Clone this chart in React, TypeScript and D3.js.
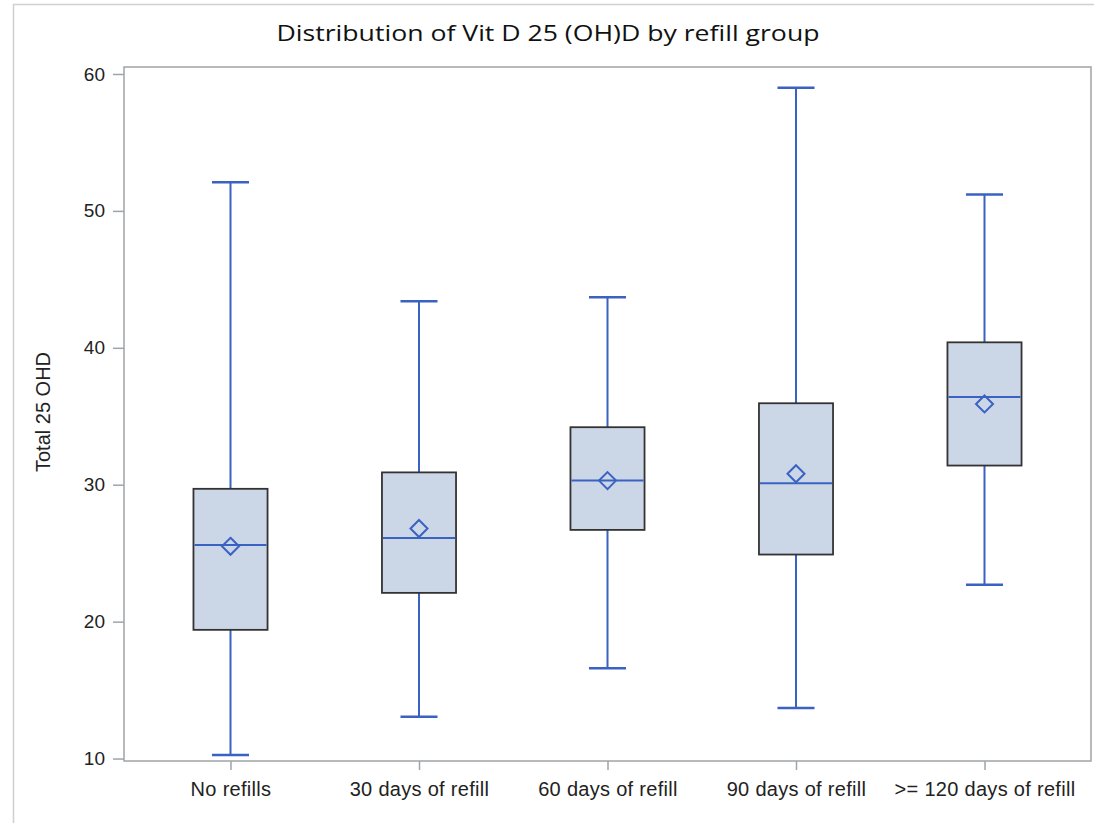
import React, { useEffect, useRef } from 'react'
import * as d3 from 'd3'

// summary stats per refill group
const groups = ['No refills', '30 days of refill', '60 days of refill', '90 days of refill', '>= 120 days of refill']
const whiskerLow = [10.25, 13.05, 16.6, 13.7, 22.7]
const q1 = [19.4, 22.1, 26.7, 24.9, 31.4]
const median = [25.6, 26.1, 30.3, 30.1, 36.4]
const q3 = [29.7, 30.9, 34.2, 35.95, 40.4]
const whiskerHigh = [52.1, 43.4, 43.7, 59.0, 51.2]
const means = [25.5, 26.8, 30.3, 30.8, 35.9]
const yTicks = [10, 20, 30, 40, 50, 60]

const title = 'Distribution of Vit D 25 (OH)D by refill group'
const yLabel = 'Total 25 OHD'

export default function App() {
    const ref = useRef<SVGSVGElement>(null)

    useEffect(() => {
        const svg = d3.select(ref.current)
        svg.selectAll('*').remove()

        const width = 1094
        const height = 823
        const margin = { top: 67, right: 3, bottom: 62, left: 124 }

        const x = d3.scalePoint<string>()
            .domain(groups)
            .range([margin.left, width - margin.right])
            .padding(0.565)

        const y = d3.scaleLinear()
            .domain([9.82, 60.51])
            .range([height - margin.bottom, margin.top])

        const blue = '#3a62c2'
        const boxW = x.step() * 0.393
        const capW = boxW / 2

        // outer light border (only top/left visible in reference)
        svg.append('path')
            .attr('d', `M13.5,${height} V4.5 H${width}`)
            .attr('fill', 'none')
            .attr('stroke', '#d0d0d0')
            .attr('stroke-width', 1.5)

        // title
        svg.append('text')
            .attr('x', 548)
            .attr('y', 41)
            .attr('text-anchor', 'middle')
            .attr('font-family', 'Open Sans, sans-serif')
            .attr('font-size', 22)
            .attr('textLength', 543)
            .attr('lengthAdjust', 'spacingAndGlyphs')
            .attr('fill', '#111')
            .text(title)

        // y axis
        const yAxis = svg.append('g')
            .attr('transform', `translate(${margin.left},0)`)
            .call(d3.axisLeft(y).tickValues(yTicks).tickSize(11).tickPadding(8).tickFormat(d3.format('d')))
        yAxis.select('.domain').remove()
        yAxis.selectAll('line').attr('stroke', '#a0a4a8').attr('stroke-width', 1.5)
        yAxis.selectAll('text')
            .attr('font-family', 'Liberation Sans, Arial, sans-serif')
            .attr('font-size', 19)
            .attr('fill', '#222')

        // x axis
        const xAxis = svg.append('g')
            .attr('transform', `translate(0,${height - margin.bottom})`)
            .call(d3.axisBottom(x).tickSize(9).tickPadding(12))
        xAxis.select('.domain').remove()
        xAxis.selectAll('line').attr('stroke', '#a0a4a8').attr('stroke-width', 1.5)
        xAxis.selectAll('text')
            .attr('font-family', 'Liberation Sans, Arial, sans-serif')
            .attr('font-size', 20)
            .attr('letter-spacing', 0.3)
            .attr('fill', '#222')

        // y title
        svg.append('text')
            .attr('transform', `translate(50,412) rotate(-90)`)
            .attr('text-anchor', 'middle')
            .attr('font-family', 'Liberation Sans, Arial, sans-serif')
            .attr('font-size', 20)
            .attr('fill', '#222')
            .text(yLabel)

        // boxes
        const box = svg.selectAll('g.box')
            .data(groups)
            .join('g')
            .attr('class', 'box')

        box.append('line')
            .attr('x1', d => x(d)!)
            .attr('x2', d => x(d)!)
            .attr('y1', (d, i) => y(whiskerLow[i]))
            .attr('y2', (d, i) => y(whiskerHigh[i]))
            .attr('stroke', blue)
            .attr('stroke-width', 2)

        box.append('line')
            .attr('x1', d => x(d)! - capW / 2)
            .attr('x2', d => x(d)! + capW / 2)
            .attr('y1', (d, i) => y(whiskerHigh[i]))
            .attr('y2', (d, i) => y(whiskerHigh[i]))
            .attr('stroke', blue)
            .attr('stroke-width', 2.5)

        box.append('line')
            .attr('x1', d => x(d)! - capW / 2)
            .attr('x2', d => x(d)! + capW / 2)
            .attr('y1', (d, i) => y(whiskerLow[i]))
            .attr('y2', (d, i) => y(whiskerLow[i]))
            .attr('stroke', blue)
            .attr('stroke-width', 2.5)

        box.append('rect')
            .attr('x', d => x(d)! - boxW / 2)
            .attr('width', boxW)
            .attr('y', (d, i) => y(q3[i]))
            .attr('height', (d, i) => y(q1[i]) - y(q3[i]))
            .attr('fill', '#cbd6e6')
            .attr('stroke', '#333')
            .attr('stroke-width', 1.8)

        box.append('line')
            .attr('x1', d => x(d)! - boxW / 2 + 1)
            .attr('x2', d => x(d)! + boxW / 2 - 1)
            .attr('y1', (d, i) => y(median[i]))
            .attr('y2', (d, i) => y(median[i]))
            .attr('stroke', blue)
            .attr('stroke-width', 2)

        box.append('path')
            .attr('d', (d, i) => {
                const cx = x(d)!
                const cy = y(means[i])
                const r = 8.5
                return `M${cx},${cy - r} L${cx + r},${cy} L${cx},${cy + r} L${cx - r},${cy} Z`
            })
            .attr('fill', 'none')
            .attr('stroke', blue)
            .attr('stroke-width', 2)

        // plot frame
        svg.append('rect')
            .attr('x', margin.left)
            .attr('y', margin.top)
            .attr('width', width - margin.right - margin.left)
            .attr('height', height - margin.bottom - margin.top)
            .attr('fill', 'none')
            .attr('stroke', '#a0a4a8')
            .attr('stroke-width', 1.5)
    })

    return (
        <svg ref={ref} width={1094} height={823}
            style={{ position: 'absolute', left: 0, top: 0, background: '#fff' }} />
    )
}
